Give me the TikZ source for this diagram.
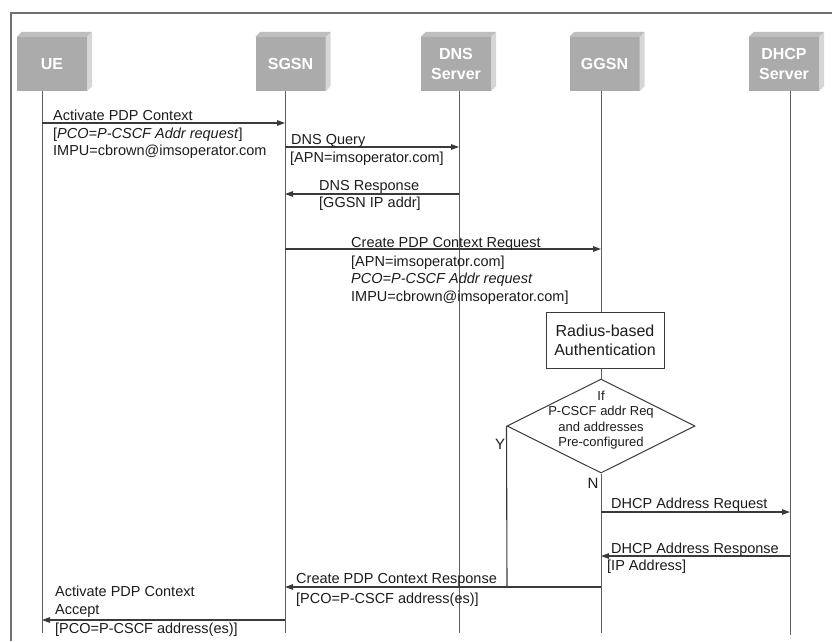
\documentclass[tikz,border=0pt]{standalone}
\usepackage{fontspec}
\setmainfont{Liberation Sans}
\usepackage{xcolor}
\usetikzlibrary{shapes.geometric, arrows.meta, positioning}
\definecolor{boxfront}{HTML}{ABABAB}
\definecolor{boxtopc}{HTML}{BEBEBE}
\definecolor{boxsidec}{HTML}{D6D6D6}
\definecolor{inkc}{HTML}{1C1C1C}
\definecolor{linec}{HTML}{3A3A3A}
\definecolor{lifec}{HTML}{5E5E5E}
\definecolor{framec}{HTML}{707070}
\tikzset{
  entity/.style   = {rectangle, fill=boxfront, text=white, inner sep=0pt,
                     minimum width=70pt, minimum height=54pt, align=center,
                     font=\fontsize{16}{20}\selectfont\bfseries},
  boxtop/.style   = {fill=boxtopc},
  boxside/.style  = {fill=boxsidec},
  lifeline/.style = {draw=lifec, line width=1pt},
  msg/.style      = {draw=linec, line width=1.3pt,
                     -{Triangle[length=8pt,width=5.5pt]}},
  branch/.style   = {draw=linec, line width=1.1pt},
  msgtext/.style  = {anchor=base west, inner sep=0pt, align=left, text=inkc,
                     font=\fontsize{14.5}{17.5}\selectfont},   % base = last line
  authbox/.style  = {rectangle, draw=linec, line width=1pt, inner sep=0pt,
                     minimum width=118pt, minimum height=56pt, align=center,
                     text=inkc, font=\fontsize{16}{19}\selectfont},
  decision/.style = {diamond, draw=linec, line width=1pt, inner sep=0pt,
                     minimum width=188pt, minimum height=94pt},
  dtext/.style    = {inner sep=0pt, align=center, text=inkc,
                     font=\fontsize{13}{15.5}\selectfont},
  yn/.style       = {inner sep=0pt, text=inkc, font=\fontsize{15}{15}\selectfont}
}
\begin{document}
\begin{tikzpicture}[x=1pt, y=-1pt]
  \useasboundingbox (0,0) rectangle (832,641);
  \draw[framec, line width=1.2pt] (11,641) -- (11,13) -- (832,13);

  % network elements
  \node[entity] (ue)   at (52,64)    {UE};
  \node[entity] (sgsn) at (290.5,64) {SGSN};
  \node[entity] (dns)  at (456,64)   {DNS\\Server};
  \node[entity] (ggsn) at (604.5,64) {GGSN};
  \node[entity] (dhcp) at (784,64)   {DHCP\\Server};
  \foreach \nm in {ue,sgsn,dns,ggsn,dhcp}{
    \fill[boxtop] (\nm.north west) -- ++(5,-5) -- ([shift={(5,-5)}]\nm.north east) -- (\nm.north east) -- cycle;
    \fill[boxside] (\nm.north east) -- ++(5,-5) -- ([shift={(5,-5)}]\nm.south east) -- (\nm.south east) -- cycle;
  }

  % lifelines
  \coordinate (ueT) at (42,91);  \coordinate (ueB) at (42,633);
  \coordinate (sgT) at (285,91); \coordinate (sgB) at (285,633);
  \coordinate (dnT) at (459,91); \coordinate (dnB) at (459,633);
  \coordinate (ggT) at (601,91); \coordinate (ggB) at (601,633);
  \coordinate (dhT) at (790,91); \coordinate (dhB) at (790,635);

  \node[authbox] (rad) at (605,340) {Radius-based\\Authentication};
  \node[decision] (dec) at (601,426) {};
  \node[dtext] (dect) at (601,420) {If\\P-CSCF addr Req\\and addresses\\Pre-configured};

  \draw[lifeline] (ueT) -- (ueB);
  \draw[lifeline] (sgT) -- (sgB);
  \draw[lifeline] (dnT) -- (dnB);
  \draw[lifeline] (dhT) -- (dhB);
  \draw[lifeline] (ggT) -- (ggT |- rad.north);
  \draw[lifeline] (ggT |- rad.south) -- (dec.north);
  \draw[lifeline] (dec.south) -- (ggB);

  % message end points
  \coordinate (m1s) at (42,123);  \coordinate (m1e) at (285,123);
  \coordinate (m2s) at (285,147); \coordinate (m2e) at (459,147);
  \coordinate (m3s) at (459,194); \coordinate (m3e) at (285,194);
  \coordinate (m4s) at (285,249); \coordinate (m4e) at (601,249);
  \coordinate (m5s) at (601,512); \coordinate (m5e) at (790,512);
  \coordinate (m6s) at (790,556); \coordinate (m6e) at (601,556);
  \coordinate (m7s) at (601,587); \coordinate (m7e) at (285,587);
  \coordinate (m8s) at (285,620); \coordinate (m8e) at (42,620);
  \coordinate (yj)  at (507,587);

  \draw[msg] (m1s) -- (m1e);
  \draw[msg] (m2s) -- (m2e);
  \draw[msg] (m3s) -- (m3e);
  \draw[msg] (m4s) -- (m4e);
  \draw[msg] (m5s) -- (m5e);
  \draw[msg] (m6s) -- (m6e);
  \draw[msg] (m7s) -- (m7e);
  \draw[msg] (m8s) -- (m8e);
  \draw[branch] (dec.west) -- (yj);

  \node[yn] (ylab) at (500,444) {Y};
  \node[yn] (nlab) at (593,483) {N};

  % message texts
  \node[msgtext] (t1)  at (53,120)   {Activate PDP Context};
  \node[msgtext] (t1x) at (53,155.5) {[\textit{PCO=P-CSCF Addr request}]\\IMPU=cbrown@imsoperator.com};
  \node[msgtext] (t2)  at (291,144)  {DNS Query};
  \node[msgtext] (t2x) at (290,162)  {[APN=imsoperator.com]};
  \node[msgtext] (t3)  at (319,190)  {DNS Response};
  \node[msgtext] (t3x) at (319,207)  {[GGSN IP addr]};
  \node[msgtext] (t4)  at (351,247)  {Create PDP Context Request};
  \node[msgtext] (t4x) at (351,301)  {[APN=imsoperator.com]\\\textit{PCO=P-CSCF Addr request}\\IMPU=cbrown@imsoperator.com]};
  \node[msgtext] (t5)  at (611,508)  {DHCP Address Request};
  \node[msgtext] (t6)  at (611,553)  {DHCP Address Response};
  \node[msgtext] (t6x) at (607,570)  {[IP Address]};
  \node[msgtext] (t7)  at (296,583)  {Create PDP Context Response};
  \node[msgtext] (t7x) at (296,603)  {[PCO=P-CSCF address(es)]};
  \node[msgtext] (t8)  at (55,614)   {Activate PDP Context\\Accept};
  \node[msgtext] (t8x) at (55,633)   {[PCO=P-CSCF address(es)]};
\end{tikzpicture}
\end{document}
